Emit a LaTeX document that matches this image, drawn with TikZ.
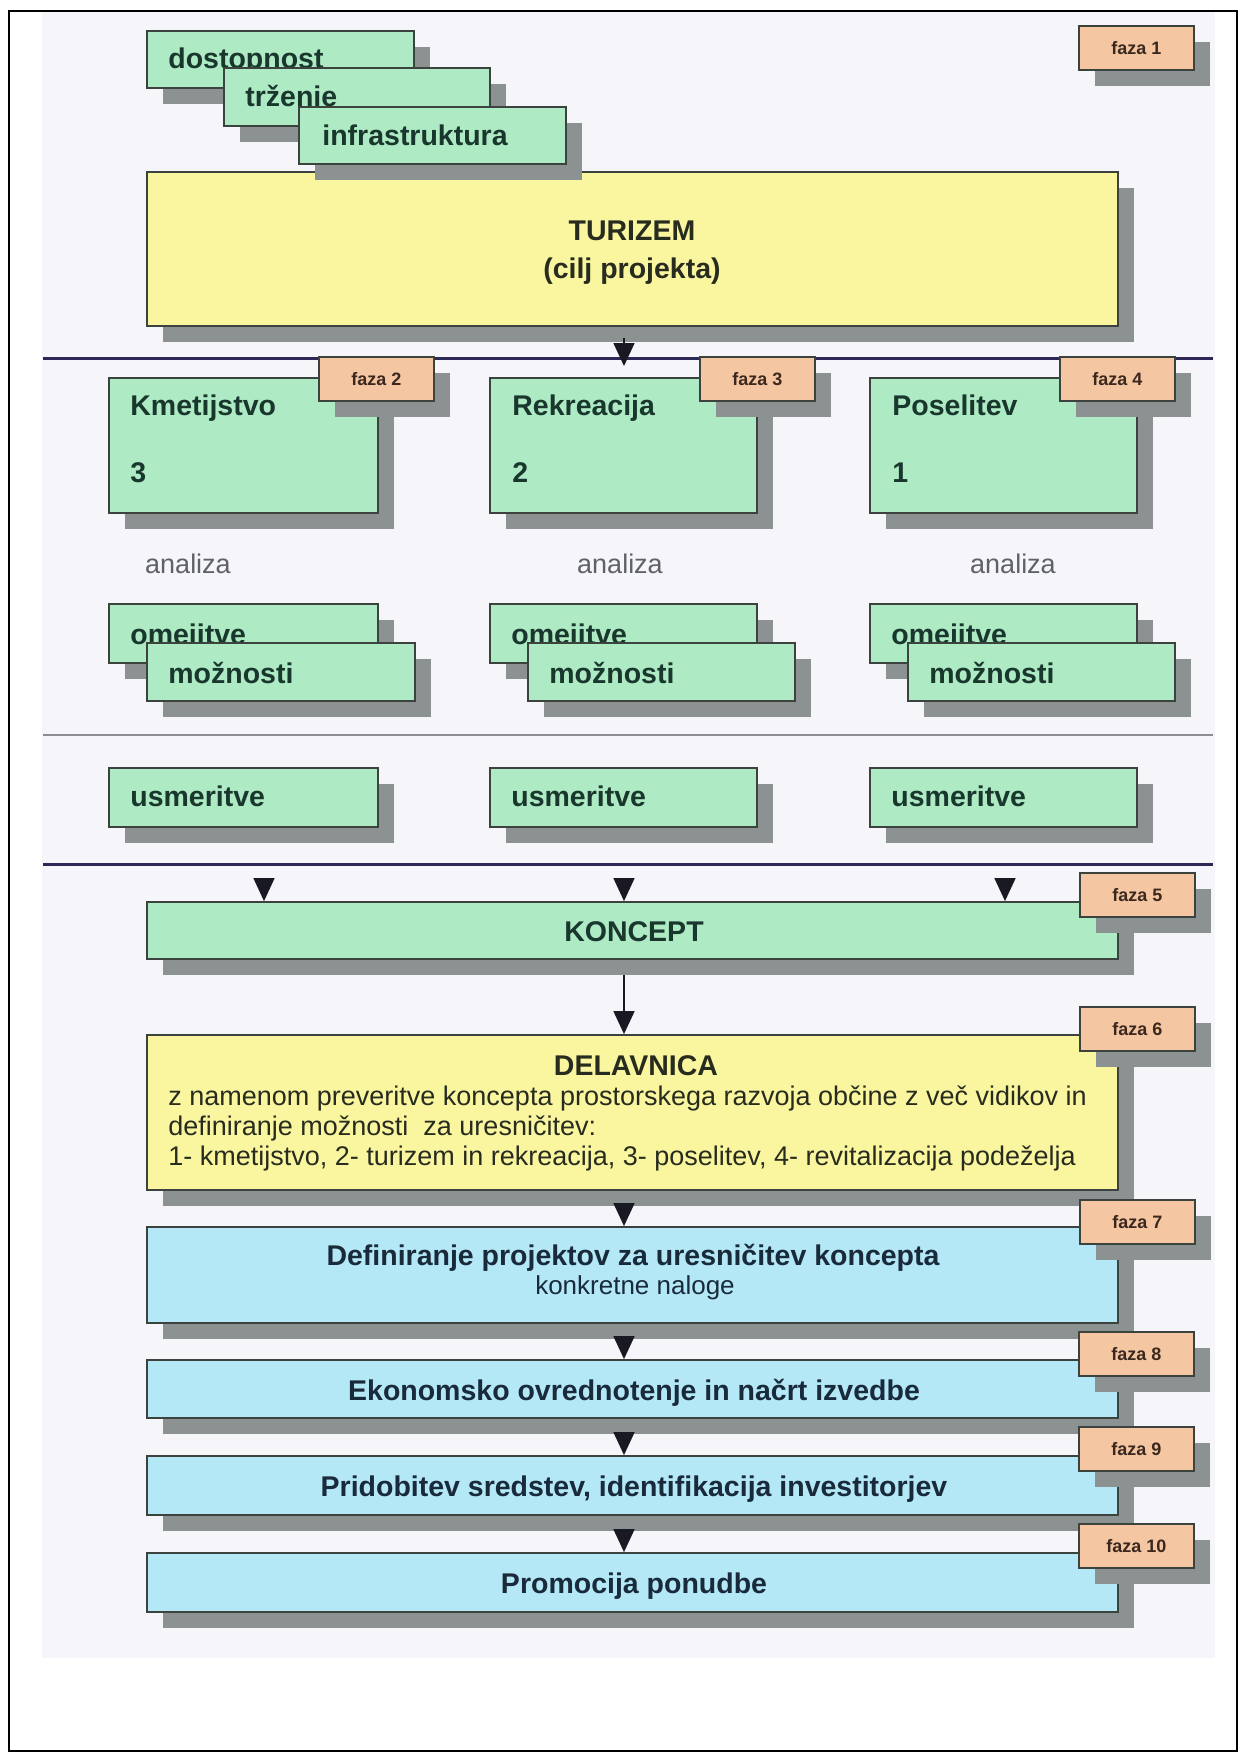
\documentclass[tikz,border=0pt]{standalone}
\usepackage{fontspec}
\setmainfont{Liberation Sans}
\usetikzlibrary{shadows,fit,arrows.meta,calc}
\definecolor{gfill}{RGB}{174,235,197}
\definecolor{yfill}{RGB}{250,246,160}
\definecolor{bfill}{RGB}{180,232,247}
\definecolor{ffill}{RGB}{244,199,162}
\definecolor{shadowc}{RGB}{140,146,146}
\definecolor{edgec}{RGB}{60,66,62}
\definecolor{bgc}{RGB}{246,246,250}
\definecolor{navyc}{RGB}{45,40,85}
\definecolor{thinc}{RGB}{140,140,145}
\definecolor{gtext}{RGB}{25,55,45}
\definecolor{btext}{RGB}{25,42,58}
\definecolor{ytext}{RGB}{40,44,30}
\definecolor{greytext}{RGB}{95,98,100}
\definecolor{fazatext}{RGB}{60,40,30}
\definecolor{arrowc}{RGB}{25,25,35}
\begin{document}
\begin{tikzpicture}[x=0.5pt,y=-0.5pt,
  shd/.style={drop shadow={shadow xshift=8pt,shadow yshift=-8pt,fill=shadowc,opacity=1}},
  boxbase/.style={draw=edgec,line width=0.9pt,inner sep=0pt,shd},
  gbox/.style={boxbase,fill=gfill},
  ybox/.style={boxbase,fill=yfill},
  bbox/.style={boxbase,fill=bfill},
  faza/.style={boxbase,fill=ffill,minimum width=57.5pt,minimum height=22pt,anchor=north west,
    font=\bfseries\fontsize{9}{11}\selectfont,text=fazatext},
  lbl/.style={anchor=base west,inner sep=0pt,font=\bfseries\fontsize{14.25}{16}\selectfont,text=gtext},
  ctitle/.style={anchor=base,inner sep=0pt,font=\bfseries\fontsize{14.25}{16}\selectfont},
  csub/.style={anchor=base,inner sep=0pt,font=\fontsize{13}{15}\selectfont},
  body/.style={anchor=base west,inner sep=0pt,font=\fontsize{13.5}{15}\selectfont,text=ytext},
  anal/.style={anchor=base,inner sep=0pt,font=\fontsize{13.5}{15}\selectfont,text=greytext},
  heavy/.style={draw=navyc,line width=1.5pt},
  thin/.style={draw=thinc,line width=0.7pt},
  arr/.style={draw=arrowc,line width=0.8pt,-{Triangle[width=10.5pt,length=11.5pt]}}
]
\useasboundingbox (0,0) rectangle (1239,1753);
% background and frame
\fill[bgc] (42,12) rectangle (1215,1658);
\draw[black,line width=1.4pt] (9,11) rectangle (1237,1751);

% separator lines
\coordinate (l1a) at (43,358); \coordinate (l1b) at (1213,358);
\coordinate (l2a) at (43,735); \coordinate (l2b) at (1213,735);
\coordinate (l3a) at (43,864); \coordinate (l3b) at (1213,864);
\draw[heavy] (l1a) -- (l1b);
\draw[thin] (l2a) -- (l2b);
\draw[heavy] (l3a) -- (l3b);

% phase 1
\node[ybox,fit={(147,172) (1118,326)}] (tur) {};
\node[ctitle,text=ytext] (turt) at (632,240) {TURIZEM};
\node[ctitle,text=ytext] (turs) at (632,278) {(cilj projekta)};
\node[gbox,fit={(147,31) (414,88)}] (dost) {};
\node[lbl] (dostt) at (168,68) {dostopnost};
\node[gbox,fit={(224,68) (490,126)}] (trz) {};
\node[lbl] (trzt) at (245,106) {trženje};
\node[gbox,fit={(299,107) (566,164)}] (inf) {};
\node[lbl] (inft) at (322,145) {infrastruktura};
\node[faza] (f1) at (1078,25) {faza 1};

% columns
\node[gbox,fit={(109,378) (378,513)}] (kmet) {};
\node[lbl] (kmett) at (130,415) {Kmetijstvo};
\node[lbl] (kmetn) at (130,482) {3};
\node[gbox,fit={(490,378) (757,513)}] (rek) {};
\node[lbl] (rekt) at (512,415) {Rekreacija};
\node[lbl] (rekn) at (512,482) {2};
\node[gbox,fit={(870,378) (1137,513)}] (pos) {};
\node[lbl] (post) at (892,415) {Poselitev};
\node[lbl] (posn) at (892,482) {1};
\node[faza] (f2) at (318,356) {faza 2};
\node[faza] (f3) at (699,356) {faza 3};
\node[faza] (f4) at (1059,356) {faza 4};

\node[anal] (an1) at (188,573) {analiza};
\node[anal] (an2) at (620,573) {analiza};
\node[anal] (an3) at (1013,573) {analiza};

\node[gbox,fit={(109,604) (378,663)}] (om1) {};
\node[lbl] (om1t) at (130,644) {omejitve};
\node[gbox,fit={(147,643) (415,701)}] (mo1) {};
\node[lbl] (mo1t) at (168,683) {možnosti};
\node[gbox,fit={(490,604) (757,663)}] (om2) {};
\node[lbl] (om2t) at (511,644) {omejitve};
\node[gbox,fit={(528,643) (795,701)}] (mo2) {};
\node[lbl] (mo2t) at (549,683) {možnosti};
\node[gbox,fit={(870,604) (1137,663)}] (om3) {};
\node[lbl] (om3t) at (891,644) {omejitve};
\node[gbox,fit={(908,643) (1175,701)}] (mo3) {};
\node[lbl] (mo3t) at (929,683) {možnosti};

\node[gbox,fit={(109,768) (378,827)}] (us1) {};
\node[lbl] (us1t) at (130,806) {usmeritve};
\node[gbox,fit={(490,768) (757,827)}] (us2) {};
\node[lbl] (us2t) at (511,806) {usmeritve};
\node[gbox,fit={(870,768) (1137,827)}] (us3) {};
\node[lbl] (us3t) at (891,806) {usmeritve};

% lower chain
\node[gbox,fit={(147,902) (1118,959)}] (kon) {};
\node[ctitle,text=gtext] (kont) at (634,941) {KONCEPT};
\node[faza] (f5) at (1079,872) {faza 5};

\node[ybox,fit={(147,1035) (1118,1190)}] (del) {};
\node[ctitle,text=ytext] (delt) at (636,1075) {DELAVNICA};
\node[body] (delb1) at (168,1105) {z namenom preveritve koncepta prostorskega razvoja občine z več vidikov in};
\node[body] (delb2) at (168,1135) {definiranje možnosti \ za uresničitev:};
\node[body] (delb3) at (168,1165) {1- kmetijstvo, 2- turizem in rekreacija, 3- poselitev, 4- revitalizacija podeželja};
\node[faza] (f6) at (1079,1006) {faza 6};

\node[bbox,fit={(147,1227) (1118,1323)}] (def) {};
\node[ctitle,text=btext] (deft) at (633,1265) {Definiranje projektov za uresničitev koncepta};
\node[csub,text=btext] (defs) at (635,1294) {konkretne naloge};
\node[faza] (f7) at (1079,1199) {faza 7};

\node[bbox,fit={(147,1360) (1118,1418)}] (eko) {};
\node[ctitle,text=btext] (ekot) at (634,1400) {Ekonomsko ovrednotenje in načrt izvedbe};
\node[faza] (f8) at (1078,1331) {faza 8};

\node[bbox,fit={(147,1456) (1118,1515)}] (pri) {};
\node[ctitle,text=btext] (prit) at (634,1496) {Pridobitev sredstev, identifikacija investitorjev};
\node[faza] (f9) at (1078,1426) {faza 9};

\node[bbox,fit={(147,1553) (1118,1612)}] (pro) {};
\node[ctitle,text=btext] (prot) at (634,1593) {Promocija ponudbe};
\node[faza] (f10) at (1078,1523) {faza 10};

% connectors
\coordinate (a0) at (624,338);
\coordinate (a0e) at (624,366);
\draw[arr] (a0) -- (a0e);
\coordinate (k1) at (264,878);
\coordinate (k2) at (624,878);
\coordinate (k3) at (1005,878);
\draw[arr] (k1) -- (k1 |- kon.north);
\draw[arr] (k2) -- (k2 |- kon.north);
\draw[arr] (k3) -- (k3 |- kon.north);
\coordinate (c1) at (624,975);
\draw[arr] (c1) -- (c1 |- del.north);
\coordinate (c2) at (624,1204);
\draw[arr] (c2) -- (c2 |- def.north);
\coordinate (c3) at (624,1337);
\draw[arr] (c3) -- (c3 |- eko.north);
\coordinate (c4) at (624,1433);
\draw[arr] (c4) -- (c4 |- pri.north);
\coordinate (c5) at (624,1530);
\draw[arr] (c5) -- (c5 |- pro.north);
\end{tikzpicture}
\end{document}
